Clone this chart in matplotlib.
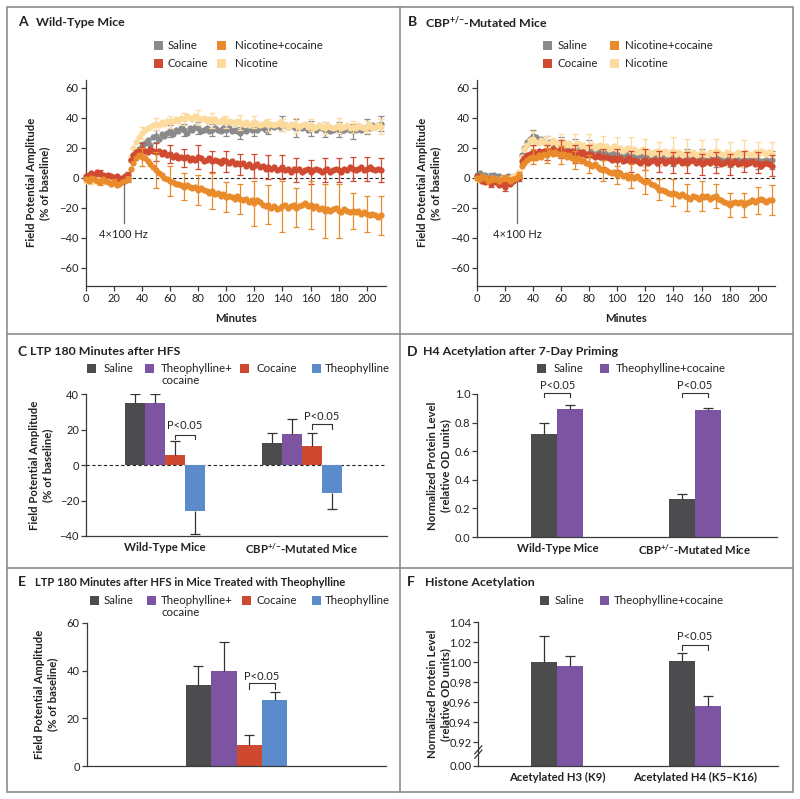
import numpy as np
import matplotlib
matplotlib.use("Agg")
import matplotlib.pyplot as plt
from matplotlib.patches import Rectangle
from matplotlib.lines import Line2D

# ---------------------------------------------------------------- data
minutes = np.arange(0, 211, 2)
err_minutes = np.arange(10, 211, 10)

# Panel A: wild-type mice (% of baseline)
wt_saline = [0, 1, -1, 2, 1, 0, -1, 1, 0, -1, -2, -1, -3, -2, -1, 0,
             12, 15, 17, 19, 21, 23, 25, 22, 27, 28,
             26, 29, 28, 30, 31, 29, 32, 31, 33, 32,
             30, 33, 32, 34, 33, 31, 32, 33, 31, 32,
             33, 32, 31, 33, 32, 33, 31, 32, 31, 30,
             32, 31, 33, 32, 33, 32, 34, 33, 32, 33,
             35, 34, 35, 34, 36, 35, 34, 35, 34, 33,
             34, 33, 34, 32, 33, 33, 32, 34, 33, 32,
             33, 31, 32, 33, 32, 31, 32, 33, 32, 31,
             32, 33, 32, 33, 34, 33, 35, 34, 35, 36]
wt_nicotine = [-2, -1, -3, -2, -1, -2, -3, -1, -2, -1, -2, -3, -1, 0, 1, 2,
               14, 20, 24, 27, 30, 32, 33, 34, 35, 36,
               35, 37, 36, 38, 37, 38, 39, 38, 40, 39,
               41, 40, 39, 41, 40, 39, 40, 38, 39, 38,
               39, 37, 38, 39, 37, 38, 37, 36, 38, 37,
               36, 37, 35, 36, 37, 36, 35, 36, 37, 35,
               36, 35, 36, 37, 35, 36, 34, 35, 36, 35,
               34, 35, 36, 34, 35, 33, 34, 35, 34, 33,
               35, 34, 33, 34, 35, 33, 34, 35, 33, 34,
               33, 35, 34, 33, 34, 35, 33, 34, 35, 34]
wt_cocaine = [1, 2, 3, 2, 4, 3, 2, 1, 2, 1, 0, 1, -1, 0, 1, 2,
              12, 15, 17, 18, 19, 18, 17, 19, 18, 17,
              18, 16, 17, 15, 16, 14, 15, 13, 14, 13,
              14, 12, 13, 12, 14, 13, 11, 12, 13, 11,
              12, 11, 10, 12, 11, 10, 11, 9, 10, 9,
              10, 8, 9, 7, 8, 9, 7, 8, 6, 7,
              6, 7, 5, 6, 7, 5, 6, 4, 6, 5,
              6, 4, 5, 6, 4, 5, 6, 5, 4, 5,
              6, 4, 5, 6, 5, 4, 6, 5, 7, 6,
              5, 6, 7, 5, 6, 7, 6, 5, 6, 5]
wt_nic_coc = [-1, -2, 0, -1, -2, -3, -1, -2, -3, -4, -3, -5, -4, -3, -2, -1,
              6, 10, 13, 15, 14, 13, 11, 9, 7, 5,
              3, 2, 0, -1, -2, -3, -4, -4, -5, -6,
              -5, -6, -7, -6, -8, -7, -8, -9, -10, -9,
              -11, -10, -12, -11, -13, -12, -13, -14, -12, -14,
              -15, -14, -16, -15, -17, -15, -16, -18, -19, -18,
              -20, -19, -21, -20, -19, -18, -20, -19, -18, -20,
              -19, -18, -17, -19, -18, -20, -19, -21, -20, -22,
              -21, -22, -21, -20, -22, -23, -21, -22, -23, -22,
              -23, -22, -24, -23, -24, -25, -24, -25, -26, -25]
wt_saline_err = [1.5, 2, 2, 3, 4, 4, 4, 4, 4, 4, 4, 5, 4, 5, 6, 5, 5, 5, 5, 5, 5]
wt_nicotine_err = [1.5, 2, 2, 4, 4, 4, 4, 5, 5, 4, 5, 4, 4, 4, 5, 4, 4, 5, 4, 4, 5]
wt_cocaine_err = [2, 2, 2, 4, 6, 6, 6, 8, 7, 7, 7, 8, 8, 8, 8, 8, 8, 8, 8, 8, 8]
wt_nic_coc_err = [2, 2, 2, 6, 12, 10, 9, 10, 12, 10, 10, 15, 13, 17, 13, 16, 18, 18, 12, 12, 13]

# Panel B: CBP+/- mutated mice (% of baseline)
cbp_saline = [2, 3, 1, 2, 0, 1, 2, 0, 1, -1, 0, 1, -1, -2, -1, 2,
              15, 20, 24, 26, 28, 27, 25, 26, 24, 23,
              24, 22, 23, 21, 22, 23, 21, 22, 20, 21,
              22, 20, 21, 19, 20, 18, 19, 17, 18, 17,
              18, 16, 17, 15, 16, 14, 15, 16, 14, 15,
              14, 13, 15, 14, 13, 14, 12, 13, 14, 13,
              14, 12, 13, 14, 13, 12, 14, 13, 12, 14,
              13, 14, 12, 13, 14, 13, 12, 14, 13, 12,
              13, 12, 14, 13, 12, 13, 11, 12, 13, 12,
              11, 12, 13, 11, 12, 10, 11, 12, 11, 12]
cbp_nicotine = [-1, -2, -1, 0, -2, -1, -3, -1, -2, 0, -1, -2, 0, 1, 2, 3,
                14, 19, 22, 25, 26, 24, 23, 25, 24, 22,
                23, 25, 24, 22, 23, 24, 22, 23, 21, 22,
                23, 21, 22, 20, 21, 22, 20, 21, 22, 20,
                21, 19, 20, 21, 19, 20, 18, 19, 20, 18,
                19, 17, 18, 19, 17, 18, 16, 17, 18, 16,
                17, 18, 16, 17, 18, 16, 17, 15, 16, 17,
                16, 17, 15, 16, 17, 16, 15, 17, 16, 18,
                17, 16, 15, 17, 16, 15, 16, 17, 15, 16,
                17, 16, 15, 17, 16, 18, 17, 16, 17, 16]
cbp_cocaine = [1, -1, -2, -3, -1, -4, -2, -3, -5, -4, -6, -3, -4, -2, -1, 0,
               11, 13, 15, 16, 17, 16, 18, 17, 18, 17,
               18, 19, 17, 18, 19, 17, 18, 17, 18, 16,
               17, 16, 17, 15, 16, 15, 14, 15, 14, 13,
               14, 13, 12, 13, 12, 13, 11, 12, 13, 11,
               12, 11, 10, 11, 12, 10, 11, 12, 10, 11,
               12, 10, 11, 12, 10, 11, 12, 10, 11, 10,
               11, 12, 10, 11, 9, 10, 11, 10, 12, 10,
               11, 9, 10, 11, 9, 10, 11, 9, 10, 11,
               9, 10, 11, 9, 10, 8, 9, 10, 9, 8]
cbp_nic_coc = [0, -1, 1, 0, -2, -1, 0, -1, -2, -1, 0, -1, -2, -1, 0, 2,
               8, 10, 12, 13, 14, 13, 15, 14, 16, 15,
               17, 16, 17, 16, 15, 16, 14, 15, 13, 12,
               13, 11, 12, 10, 9, 8, 9, 7, 6, 5,
               5, 4, 3, 4, 2, 3, 1, 2, 0, 1,
               0, 1, -1, -2, -3, -2, -4, -5, -6, -8,
               -8, -9, -10, -11, -10, -11, -12, -11, -12, -13,
               -14, -12, -13, -14, -12, -13, -12, -14, -13, -12,
               -14, -15, -16, -17, -18, -17, -16, -17, -16, -18,
               -17, -16, -15, -16, -15, -14, -15, -16, -15, -15]
cbp_saline_err = [2, 2, 2, 4, 5, 5, 5, 5, 5, 5, 5, 5, 5, 5, 5, 5, 5, 5, 5, 6, 6]
cbp_nicotine_err = [2, 2, 2, 5, 6, 6, 7, 8, 8, 8, 9, 9, 8, 9, 9, 8, 8, 8, 9, 8, 8]
cbp_cocaine_err = [2, 3, 2, 5, 5, 6, 6, 6, 6, 7, 7, 7, 7, 7, 7, 7, 7, 7, 7, 7, 7]
cbp_nic_coc_err = [2, 2, 2, 5, 5, 6, 6, 6, 7, 6, 8, 8, 7, 9, 9, 10, 8, 8, 8, 9, 10]

CBP = "CBP$^{+/{\u2212}}$"

# Panel C: LTP 180 min after HFS
c_groups = ["Wild-Type Mice", CBP + "-Mutated Mice"]
c_saline = [35, 12.5]
c_saline_err = [5, 5.3]
c_theo_coc = [35, 17.5]
c_theo_coc_err = [5, 8.3]
c_cocaine = [5.5, 10.5]
c_cocaine_err = [8.2, 7.3]
c_theo = [-26, -15.5]
c_theo_err = [12.8, 9.3]

# Panel D: H4 acetylation after 7-day priming
d_groups = ["Wild-Type Mice", CBP + "-Mutated Mice"]
d_saline = [0.718, 0.264]
d_saline_err = [0.077, 0.035]
d_theo_coc = [0.893, 0.886]
d_theo_coc_err = [0.030, 0.018]

# Panel E: LTP 180 min after HFS, theophylline-treated mice
e_saline = [33.9]
e_saline_err = [8.1]
e_theo_coc = [39.8]
e_theo_coc_err = [12.2]
e_cocaine = [8.8]
e_cocaine_err = [4.1]
e_theo = [27.9]
e_theo_err = [3.1]

# Panel F: histone acetylation
f_groups = ["Acetylated H3 (K9)", "Acetylated H4 (K5\u2013K16)"]
f_saline = [1.000, 1.001]
f_saline_err = [0.0266, 0.008]
f_theo_coc = [0.9963, 0.9563]
f_theo_coc_err = [0.0097, 0.0103]
f_ticks = [0.92, 0.94, 0.96, 0.98, 1.00, 1.02, 1.04]
f_tick_labels = ["0.92", "0.94", "0.96", "0.98", "1.00", "1.02", "1.04"]

# ---------------------------------------------------------------- style
plt.rcParams["font.family"] = ["Lato", "DejaVu Sans"]
plt.rcParams["mathtext.default"] = "regular"

COL_SAL_TS = "#8a8a8c"
COL_COC_TS = "#cf4a30"
COL_NICCOC = "#e98b2a"
COL_NIC = "#fcdb9d"
COL_SAL = "#4c4c4e"
COL_THCOC = "#7d54a2"
COL_COC = "#cf4830"
COL_THEO = "#5b8bcb"
SPINE = "#3a3a3a"
TXT = "#222222"
EB = "#333333"
FRAME = "#8d8d8d"

FS_TICK = 8.0
FS_LEG = 8.3
FS_TITLE = 8.9
FS_LETTER = 10.0
FS_LABEL = 8.2
FS_NOTE = 8.0

W, H = 800, 799
fig = plt.figure(figsize=(8, 7.99), dpi=100)


def fx(x):
    return x / W


def fy(y):
    return 1 - y / H


def add_ax(l, t, r, b):
    ax = fig.add_axes([fx(l), fy(b), (r - l) / W, (b - t) / H])
    for s in ("top", "right"):
        ax.spines[s].set_visible(False)
    for s in ("left", "bottom"):
        ax.spines[s].set_color(SPINE)
        ax.spines[s].set_linewidth(0.9)
    ax.tick_params(colors=SPINE, labelcolor=TXT, labelsize=FS_TICK, width=0.9,
                   length=3.5, direction="out", pad=1.5)
    ax.patch.set_alpha(0)
    return ax, (l, t, r, b)


def ylabel(ax, box, text, xpx):
    l, t, r, b = box
    lab = ax.set_ylabel(text, fontsize=FS_LABEL, fontweight="bold", color=TXT,
                        linespacing=1.2)
    ax.yaxis.set_label_coords((xpx - l) / (r - l), 0.5)
    lab.set_va("center")
    lab.set_ha("center")


def title(letter, text, xl, xt, y, size=FS_TITLE):
    fig.text(fx(xl), fy(y), letter, fontsize=FS_LETTER, fontweight="bold",
             color=TXT, va="center")
    fig.text(fx(xt), fy(y), text, fontsize=size, fontweight="bold",
             color=TXT, va="center")


def legend_item(xs, xt, y, color, label, label2=None):
    s = 9
    fig.patches.append(Rectangle((fx(xs - s / 2), fy(y + s / 2)), s / W, s / H,
                                 transform=fig.transFigure, facecolor=color,
                                 edgecolor="none"))
    fig.text(fx(xt), fy(y), label, fontsize=FS_LEG, color=TXT, va="center")
    if label2:
        fig.text(fx(xt), fy(y + 12.5), label2, fontsize=FS_LEG, color=TXT,
                 va="center")


def time_panel(box, series, xmax, stim_x, stim_top):
    ax, box = add_ax(*box)
    ax.set_xlim(0, xmax)
    ax.set_ylim(-72, 65.1)
    ax.set_xticks(np.arange(0, 201, 20))
    ax.set_yticks([-60, -40, -20, 0, 20, 40, 60])
    ax.axhline(0, color="#222222", lw=0.8, ls=(0, (3, 2.2)), zorder=1)
    idx = [int(np.where(minutes == m)[0][0]) for m in err_minutes]
    for vals, err, col in series:
        v = np.asarray(vals, float)
        ax.errorbar(err_minutes, v[idx], yerr=err, fmt="none", ecolor=col,
                    elinewidth=0.9, capsize=2.4, capthick=0.9, zorder=3)
        ax.plot(minutes, v, "o", ms=4.5, color=col, mew=0, zorder=3,
                clip_on=False)
    ax.plot([stim_x, stim_x], [stim_top, -30], color="#6d6d6d", lw=0.9, zorder=4)
    ax.text(stim_x, -37.6, "4\u00d7100 Hz", ha="center", va="center",
            fontsize=FS_NOTE, color=TXT)
    ax.set_xlabel("Minutes", fontsize=FS_LABEL, fontweight="bold", color=TXT)
    l, t, r, b = box
    ax.xaxis.set_label_coords(0.5, (b - 318.5) / (b - t))
    ax.xaxis.label.set_va("center")
    return ax, box


def bars(ax, centers, groups_vals, groups_errs, colors, width):
    n = len(groups_vals)
    cx = []
    for i, (vals, errs, col) in enumerate(zip(groups_vals, groups_errs, colors)):
        x = np.asarray(centers, float) + (i - (n - 1) / 2) * width
        v = np.asarray(vals, float)
        e = np.asarray(errs, float)
        ax.bar(x, v, width=width, color=col, edgecolor="none", zorder=2)
        ends = v + np.where(v >= 0, e, -e)
        ax.vlines(x, v, ends, color=EB, lw=0.9, zorder=3)
        ax.plot(x, ends, ls="none", marker="_", ms=7, mew=0.9, color=EB, zorder=3)
        cx.append(x)
    return cx


def bracket(ax, x1, x2, y, drop, ty):
    ax.plot([x1, x1, x2, x2], [y - drop, y, y, y - drop], color=EB, lw=0.8,
            clip_on=False, zorder=4)
    ax.text((x1 + x2) / 2, ty, "P<0.05", ha="center", va="center",
            fontsize=FS_NOTE, color=TXT)


# ---------------------------------------------------------------- frame
fig.add_artist(Rectangle((fx(7), fy(792)), (793 - 7) / W, (792 - 7) / H,
                         transform=fig.transFigure, fill=False, ec=FRAME, lw=1.2))
fig.add_artist(Line2D([fx(400), fx(400)], [fy(7), fy(792)],
                      transform=fig.transFigure, color=FRAME, lw=1.2))
for yy in (334, 568):
    fig.add_artist(Line2D([fx(7), fx(793)], [fy(yy), fy(yy)],
                          transform=fig.transFigure, color=FRAME, lw=1.2))

# ---------------------------------------------------------------- A
title("A", "Wild-Type Mice", 18, 36, 22)
legend_item(158.3, 167.7, 45.7, COL_SAL_TS, "Saline")
legend_item(158.3, 167.7, 63.3, COL_COC_TS, "Cocaine")
legend_item(221.5, 235, 45.7, COL_NICCOC, "Nicotine+cocaine")
legend_item(221.5, 235, 63.3, COL_NIC, "Nicotine")
axA, boxA = time_panel((85.7, 80, 386, 285.7),
                       [(wt_saline, wt_saline_err, COL_SAL_TS),
                        (wt_nicotine, wt_nicotine_err, COL_NIC),
                        (wt_cocaine, wt_cocaine_err, COL_COC_TS),
                        (wt_nic_coc, wt_nic_coc_err, COL_NICCOC)],
                       213.7, 27, -4)
ylabel(axA, boxA, "Field Potential Amplitude\n(% of baseline)", 38)

# ---------------------------------------------------------------- B
title("B", CBP + "-Mutated Mice", 408.3, 425, 22)
legend_item(547.7, 557.7, 45.7, COL_SAL_TS, "Saline")
legend_item(547.7, 557.7, 63.3, COL_COC_TS, "Cocaine")
legend_item(614.3, 625, 45.7, COL_NICCOC, "Nicotine+cocaine")
legend_item(614.3, 625, 63.3, COL_NIC, "Nicotine")
axB, boxB = time_panel((476.7, 80, 775, 285.7),
                       [(cbp_saline, cbp_saline_err, COL_SAL_TS),
                        (cbp_nicotine, cbp_nicotine_err, COL_NIC),
                        (cbp_cocaine, cbp_cocaine_err, COL_COC_TS),
                        (cbp_nic_coc, cbp_nic_coc_err, COL_NICCOC)],
                       212.3, 29, -3)
ylabel(axB, boxB, "Field Potential Amplitude\n(% of baseline)", 429)

# ---------------------------------------------------------------- C
title("C", "LTP 180 Minutes after HFS", 17, 30.5, 351.7)
legend_item(91.7, 103.3, 368.3, COL_SAL, "Saline")
legend_item(149.3, 161, 368.3, COL_THCOC, "Theophylline+", "cocaine")
legend_item(244.3, 256.7, 368.3, COL_COC, "Cocaine")
legend_item(316.7, 324.3, 368.3, COL_THEO, "Theophylline")
axC, boxC = add_ax(86, 394, 387, 536)
wC = 20 / 137.0
axC.set_xlim((86 - 165) / 137.0, (387 - 165) / 137.0)
axC.set_ylim(-40, 40)
axC.set_yticks([-40, -20, 0, 20, 40])
axC.axhline(0, color="#222222", lw=0.8, ls=(0, (3, 2.2)), zorder=1)
cC = bars(axC, [0, 1], [c_saline, c_theo_coc, c_cocaine, c_theo],
          [c_saline_err, c_theo_coc_err, c_cocaine_err, c_theo_err],
          [COL_SAL, COL_THCOC, COL_COC, COL_THEO], wC)
bracket(axC, cC[2][0], cC[3][0], 17, 2.5, 22)
bracket(axC, cC[2][1], cC[3][1], 23, 2.5, 27.3)
axC.set_xticks([0, 1])
axC.set_xticklabels(c_groups, fontsize=FS_LABEL, fontweight="bold")
axC.tick_params(axis="x", length=0, pad=4)
ylabel(axC, boxC, "Field Potential Amplitude\n(% of baseline)", 41)

# ---------------------------------------------------------------- D
title("D", "H4 Acetylation after 7-Day Priming", 407, 423.3, 351.7)
legend_item(541.7, 553.3, 368.3, COL_SAL, "Saline")
legend_item(604, 615.3, 368.3, COL_THCOC, "Theophylline+cocaine")
axD, boxD = add_ax(477.3, 394, 776.7, 537)
wD = 26 / 137.4
axD.set_xlim((477.3 - 557.3) / 137.4, (776.7 - 557.3) / 137.4)
axD.set_ylim(0, 1.0)
axD.set_yticks([0.0, 0.2, 0.4, 0.6, 0.8, 1.0])
axD.set_yticklabels(["0.0", "0.2", "0.4", "0.6", "0.8", "1.0"])
cD = bars(axD, [0, 1], [d_saline, d_theo_coc], [d_saline_err, d_theo_coc_err],
          [COL_SAL, COL_THCOC], wD)
bracket(axD, cD[0][0], cD[1][0], 1.009, 0.032, 1.056)
bracket(axD, cD[0][1], cD[1][1], 1.009, 0.032, 1.056)
axD.set_xticks([0, 1])
axD.set_xticklabels(d_groups, fontsize=FS_LABEL, fontweight="bold")
axD.tick_params(axis="x", length=0, pad=4)
ylabel(axD, boxD, "Normalized Protein Level\n(relative OD units)", 439)

# ---------------------------------------------------------------- E
title("E", "LTP 180 Minutes after HFS in Mice Treated with Theophylline",
      18, 35, 582.3, size=8.1)
legend_item(94, 103.3, 600, COL_SAL, "Saline")
legend_item(151.7, 161, 600, COL_THCOC, "Theophylline+", "cocaine")
legend_item(246.7, 256.7, 600, COL_COC, "Cocaine")
legend_item(316.7, 324.3, 600, COL_THEO, "Theophylline")
axE, boxE = add_ax(86.7, 622.7, 386, 766.3)
wE = 25.4 / 100.0
axE.set_xlim((86.7 - 236.5) / 100.0, (386 - 236.5) / 100.0)
axE.set_ylim(0, 60)
axE.set_yticks([0, 20, 40, 60])
axE.set_xticks([])
cE = bars(axE, [0], [e_saline, e_theo_coc, e_cocaine, e_theo],
          [e_saline_err, e_theo_coc_err, e_cocaine_err, e_theo_err],
          [COL_SAL, COL_THCOC, COL_COC, COL_THEO], wE)
bracket(axE, cE[2][0], cE[3][0], 34.8, 2.4, 37.6)
ylabel(axE, boxE, "Field Potential Amplitude\n(% of baseline)", 46)

# ---------------------------------------------------------------- F
title("F", "Histone Acetylation", 407.3, 425, 582.3)
legend_item(544.3, 555, 600, COL_SAL, "Saline")
legend_item(604, 613.3, 600, COL_THCOC, "Theophylline+cocaine")
axF, boxF = add_ax(478.3, 622.3, 777.7, 766)
f_bottom = 1.04 - (766 - 622.3) / 1000.0  # broken axis: shown as 0.00
axF.set_xlim((478.3 - 557.3) / 137.4, (777.7 - 557.3) / 137.4)
axF.set_ylim(f_bottom, 1.04)
axF.set_yticks([f_bottom] + f_ticks)
axF.set_yticklabels(["0.00"] + f_tick_labels)
cF = []
for i, (vals, errs, col) in enumerate([(f_saline, f_saline_err, COL_SAL),
                                       (f_theo_coc, f_theo_coc_err, COL_THCOC)]):
    x = np.array([0.0, 1.0]) + (i - 0.5) * wD
    v = np.asarray(vals)
    e = np.asarray(errs)
    axF.bar(x, v - f_bottom, bottom=f_bottom, width=wD, color=col,
            edgecolor="none", zorder=2)
    axF.vlines(x, v, v + e, color=EB, lw=0.9, zorder=3)
    axF.plot(x, v + e, ls="none", marker="_", ms=7, mew=0.9, color=EB, zorder=3)
    cF.append(x)
bracket(axF, cF[0][1], cF[1][1], 1.0173, 0.005, 1.0255)
axF.set_xticks([0, 1])
axF.set_xticklabels(f_groups, fontsize=FS_LABEL, fontweight="bold")
axF.tick_params(axis="x", length=0, pad=4)
ylabel(axF, boxF, "Normalized Protein Level\n(relative OD units)", 439)
# axis-break marks
hF = 766 - 622.3
wFp = 777.7 - 478.3
yb = (766 - 752) / hF
for dy in (-2.2, 2.2):
    axF.plot([-3.5 / wFp, 3.5 / wFp], [yb + (dy - 4) / hF, yb + (dy + 4) / hF],
             transform=axF.transAxes, color=SPINE, lw=0.9, clip_on=False, zorder=5)

fig.savefig("out.png", dpi=100)
